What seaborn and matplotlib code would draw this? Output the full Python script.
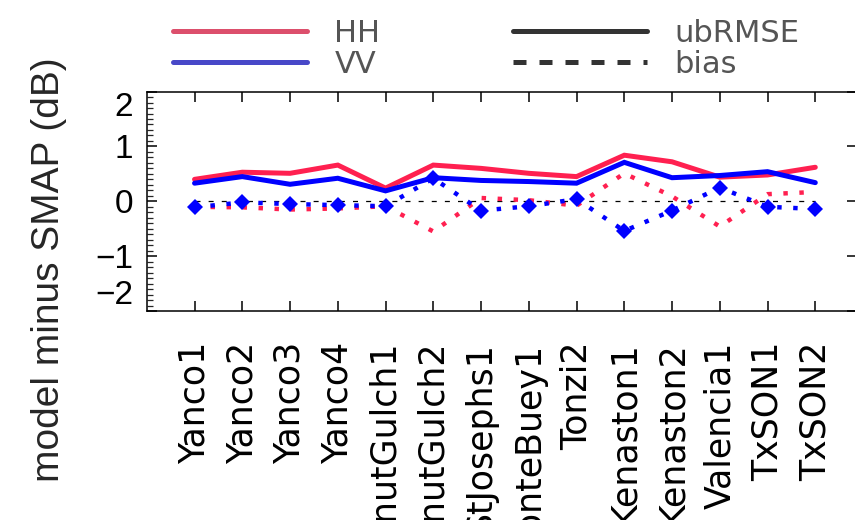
import numpy as np
import pandas as pd
import matplotlib
matplotlib.use("Agg")
import matplotlib.pyplot as plt
from matplotlib.lines import Line2D
from matplotlib.ticker import MultipleLocator
import seaborn as sns

sites = ["Yanco1", "Yanco2", "Yanco3", "Yanco4", "WalnutGulch1", "WalnutGulch2",
         "StJosephs1", "MonteBuey1", "Tonzi2", "Kenaston1", "Kenaston2", "Valencia1",
         "TxSON1", "TxSON2"]
hh_ubrmse = [0.40, 0.53, 0.51, 0.66, 0.24, 0.66, 0.60, 0.51, 0.45, 0.84, 0.72, 0.44, 0.48, 0.62]
vv_ubrmse = [0.33, 0.45, 0.31, 0.42, 0.19, 0.43, 0.38, 0.36, 0.33, 0.71, 0.43, 0.47, 0.54, 0.34]
hh_bias = [-0.10, -0.11, -0.15, -0.13, -0.09, -0.55, 0.06, 0.02, -0.08, 0.51, 0.09, -0.46, 0.13, 0.17]
vv_bias = [-0.11, -0.02, -0.05, -0.07, -0.09, 0.42, -0.17, -0.09, 0.04, -0.54, -0.17, 0.25, -0.10, -0.14]
y_ticks = [-2, -1, 0, 1, 2]

RED = "#ff2050"
BLUE = "#0000ff"

sns.set_style("white")
plt.rcParams["font.family"] = ["Liberation Sans", "DejaVu Sans"]

pos = np.arange(len(sites))
df = pd.DataFrame({"pos": pos, "hh_u": hh_ubrmse, "vv_u": vv_ubrmse,
                   "hh_b": hh_bias, "vv_b": vv_bias, "zero": np.zeros(len(sites))})

fig = plt.figure(figsize=(8.55, 5.2), dpi=100)
ax = fig.add_axes([0.1717, 0.4019, 0.8310, 0.422])

sns.lineplot(data=df, x="pos", y="zero", ax=ax, color="black", lw=0.9,
             linestyle=(0, (4, 6.5)))
sns.lineplot(data=df, x="pos", y="hh_u", ax=ax, color=RED, lw=3.6,
             solid_joinstyle="miter")
sns.lineplot(data=df, x="pos", y="vv_u", ax=ax, color=BLUE, lw=3.6,
             solid_joinstyle="miter")
sns.lineplot(data=df, x="pos", y="hh_b", ax=ax, color=RED, lw=3.2,
             linestyle=(0, (1, 2.6)), dash_capstyle="butt")
sns.lineplot(data=df, x="pos", y="vv_b", ax=ax, color=BLUE, lw=3.2,
             linestyle=(0, (1, 2.6)), dash_capstyle="butt",
             marker="D", markersize=8.5, markeredgewidth=0)

ax.set_xlim(-1, 13.88)
ax.set_ylim(-2, 2)
ax.set_xticks(pos)
ax.set_xticklabels(sites, rotation=90, fontsize=25, family="DejaVu Sans",
                   va="top", ha="center")
ax.set_yticks(y_ticks)
ax.set_yticklabels([("\u2212" + str(abs(v))) if v < 0 else str(v) for v in y_ticks],
                   fontsize=24)
ax.yaxis.set_minor_locator(MultipleLocator(0.1))
for lab, v in zip(ax.get_yticklabels(), y_ticks):
    if v == 2:
        lab.set_va("top")
    elif v == -2:
        lab.set_va("bottom")

ax.set_xlabel("")
ax.set_ylabel("model minus SMAP (dB)", fontsize=28, va="center")
ax.yaxis.set_label_coords(-0.138, 0.19)

for sp in ax.spines.values():
    sp.set_visible(True)
    sp.set_color("black")
    sp.set_linewidth(1.1)

ax.tick_params(axis="x", which="major", direction="in", length=7.5, width=1.1,
               bottom=True, top=True, pad=22, colors="black")
ax.tick_params(axis="y", which="major", direction="in", length=7, width=1.1,
               left=True, right=True, pad=10, colors="black")
ax.tick_params(axis="y", which="minor", direction="in", length=4, width=0.9,
               left=True, right=False)
ax.grid(False)

# legend (figure-level, above the axes)
leg_font = {"family": "DejaVu Sans", "size": 22}
h1 = [Line2D([], [], color="#dc4f6c", lw=3.6), Line2D([], [], color="#4848c8", lw=3.6)]
leg1 = fig.legend(h1, ["HH", "VV"], loc="center left", bbox_to_anchor=(0.2023, 0.906),
                  frameon=False, borderpad=0, borderaxespad=0, handlelength=4.4,
                  handletextpad=0.88, labelspacing=0.05, prop=leg_font,
                  labelcolor="#555555")
h2 = [Line2D([], [], color="#333333", lw=3.6),
      Line2D([], [], color="#333333", lw=3.6, linestyle=(0, (2.6, 2.6)))]
leg2 = fig.legend(h2, ["ubRMSE", "bias"], loc="center left", bbox_to_anchor=(0.600, 0.906),
                  frameon=False, borderpad=0, borderaxespad=0, handlelength=4.4,
                  handletextpad=0.88, labelspacing=0.05, prop=leg_font,
                  labelcolor="#555555")

fig.savefig("out.png", dpi=100)
